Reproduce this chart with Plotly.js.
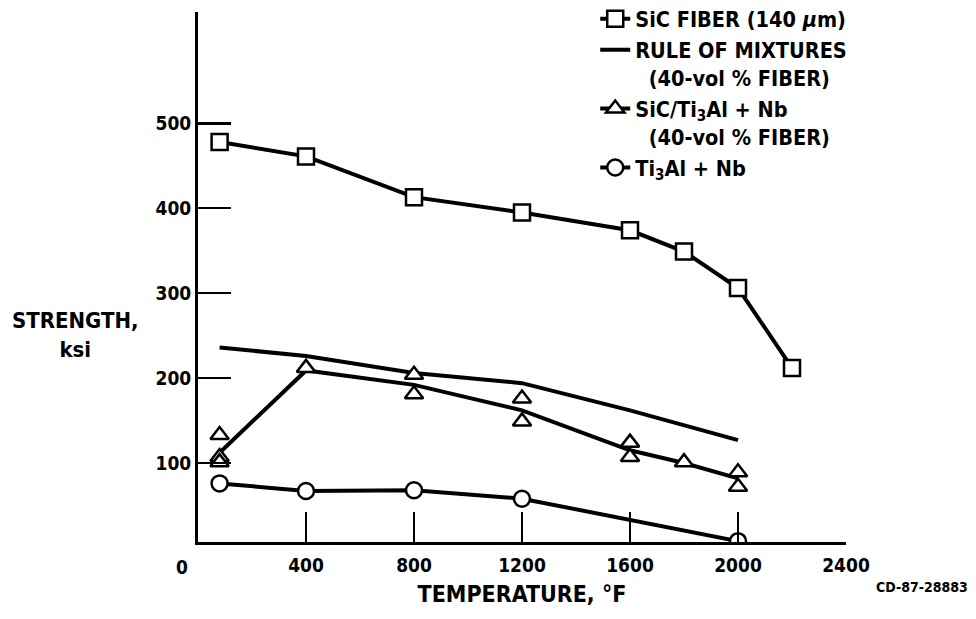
<!DOCTYPE html>
<html>
<head>
<meta charset="utf-8">
<script src="https://cdn.plot.ly/plotly-3.0.1.min.js"></script>
<style>html,body{margin:0;padding:0;background:#fff;}#chart{width:976px;height:619px;}</style>
</head>
<body>
<div id="chart"></div>
<script>
// ---- data ----
var fiberTemp = [80, 400, 800, 1200, 1600, 1800, 2000, 2200];
var fiberStrength = [478, 461, 413, 395, 374, 349, 306, 212];

var ruleTemp = [80, 400, 800, 1200, 1600, 2000];
var ruleStrength = [236, 226, 206, 194, 162, 127];

var compLineTemp = [80, 400, 800, 1200, 1600, 1800, 2000];
var compLineStrength = [112, 209, 192, 162, 115, 100, 82];

var compPtTemp = [80, 80, 80, 400, 800, 800, 1200, 1200, 1600, 1600, 1800, 2000, 2000];
var compPtStrength = [133, 107, 101, 212, 204, 181, 176, 149, 124, 107, 101, 89, 72];

var matrixTemp = [80, 400, 800, 1200, 2000];
var matrixStrength = [76, 67, 68, 58, 8];

var xTicks = [400, 800, 1200, 1600, 2000, 2400];
var yTicks = [100, 200, 300, 400, 500];

var names = {
  fiber: 'SiC FIBER (140 <i>\u03bc</i>m)',
  rule: 'RULE OF MIXTURES<br>\u00a0\u00a0(40-vol % FIBER)',
  comp: 'SiC/Ti<sub>3</sub>Al + Nb<br>\u00a0\u00a0(40-vol % FIBER)',
  matrix: 'Ti<sub>3</sub>Al + Nb'
};

var FONT = '"DejaVu Sans Condensed", "Liberation Sans Narrow", "Arial Narrow", "Liberation Sans", sans-serif';
var LW = 4;
var mk = function (sym) { return {symbol: sym, size: 16, color: '#fff', line: {color: '#000', width: 2.5}}; };

var traces = [
  {x: ruleTemp, y: ruleStrength, mode: 'lines', name: names.rule, legendrank: 2,
   line: {color: '#000', width: LW}},
  {x: compLineTemp, y: compLineStrength, mode: 'lines', showlegend: false,
   line: {color: '#000', width: LW}},
  {x: compPtTemp, y: compPtStrength, mode: 'markers', showlegend: false,
   marker: mk('triangle-up')},
  {x: [null], y: [null], mode: 'lines+markers', name: names.comp, legendrank: 3,
   line: {color: '#000', width: LW}, marker: mk('triangle-up')},
  {x: matrixTemp, y: matrixStrength, mode: 'lines+markers', name: names.matrix, legendrank: 4,
   line: {color: '#000', width: LW}, marker: mk('circle')},
  {x: fiberTemp, y: fiberStrength, mode: 'lines+markers', name: names.fiber, legendrank: 1,
   line: {color: '#000', width: LW}, marker: mk('square')}
];

var layout = {
  width: 976, height: 619,
  margin: {l: 198, r: 130, t: 12, b: 77, autoexpand: false},
  paper_bgcolor: '#fff', plot_bgcolor: '#fff',
  font: {family: FONT, color: '#000', size: 19, weight: 'bold'},
  showlegend: true,
  legend: {x: 0.613, y: 1.026, xanchor: 'left', yanchor: 'top', valign: 'top',
           bgcolor: 'rgba(0,0,0,0)', font: {family: FONT, size: 21.5, weight: 'bold'}},
  xaxis: {range: [0, 2400], tickvals: xTicks, ticktext: xTicks.map(String),
          ticks: 'inside', ticklen: 30, tickwidth: 2.5, tickcolor: '#000', ticklabelstandoff: 4,
          showline: true, linewidth: 3, linecolor: '#000', showgrid: false, zeroline: false,
          tickfont: {family: FONT, size: 19, weight: 'bold'},
          title: {text: 'TEMPERATURE, \u00b0F', font: {family: FONT, size: 23, weight: 'bold'}, standoff: 12}},
  yaxis: {range: [7, 631], tickvals: yTicks, ticktext: yTicks.map(String),
          ticks: 'inside', ticklen: 33, tickwidth: 2.5, tickcolor: '#000',
          showline: true, linewidth: 3, linecolor: '#000', showgrid: false, zeroline: false,
          tickfont: {family: FONT, size: 19, weight: 'bold'}},
  annotations: [
    {x: 0, y: 0, xref: 'x', yref: 'paper', text: '0', showarrow: false, xshift: -16, yshift: -25,
     yanchor: 'middle', xanchor: 'center',
     font: {family: FONT, size: 19, weight: 'bold'}},
    {x: (75 - 198) / 648, y: (542 - 335) / 530, xref: 'paper', yref: 'paper', text: 'STRENGTH,<br>ksi', showarrow: false,
     xanchor: 'center', yanchor: 'middle', align: 'center',
     font: {family: FONT, size: 22, weight: 'bold'}},
    {x: (970 - 198) / 648, y: -45 / 530, xref: 'paper', yref: 'paper', text: 'CD-87-28883', showarrow: false,
     xanchor: 'right', yanchor: 'middle', font: {family: FONT, size: 14, weight: 'bold'}}
  ]
};

Plotly.newPlot('chart', traces, layout, {displayModeBar: false, staticPlot: true});
</script>
</body>
</html>
